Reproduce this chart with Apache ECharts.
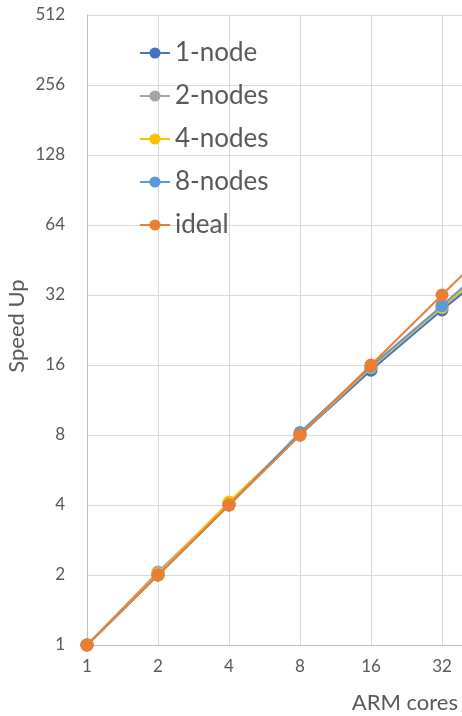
<!DOCTYPE html>
<html>
<head>
<meta charset="utf-8">
<script src="https://cdn.jsdelivr.net/npm/echarts@6/dist/echarts.min.js"></script>
<style>
  html, body { margin: 0; padding: 0; background: #fff; }
  #chart { width: 462px; height: 716px; }
</style>
</head>
<body>
<div id="chart"></div>
<script>
// Core counts (x) and measured speed-ups per node configuration
const cores = [1, 2, 4, 8, 16, 32, 64];
const oneNode    = [1, 2.0, 4.0, 8.0, 15.2, 27.6, 49];
const twoNodes   = [1, 2.06, 4.05, 8.0, 15.6, 28.2, 51];
const fourNodes  = [1, 2.02, 4.12, 8.05, 15.7, 28.4, 52];
const eightNodes = [1, 2.0, 4.0, 8.2, 15.8, 28.8, 54];
const ideal      = [1, 2, 4, 8, 16, 32, 64];

const seriesNames = ['1-node', '2-nodes', '4-nodes', '8-nodes', 'ideal'];
const seriesData = [oneNode, twoNodes, fourNodes, eightNodes, ideal];
const colors = ['#4472C4', '#A5A5A5', '#FFC000', '#5B9BD5', '#ED7D31'];

const FONT = 'Lato';
const TEXT = '#595959';

const chart = echarts.init(document.getElementById('chart'), null, { renderer: 'canvas' });

chart.setOption({
  animation: false,
  color: colors,
  textStyle: { fontFamily: FONT },
  // the plot runs on past the right edge, up to 64 cores
  grid: { left: 87, top: 15, bottom: 71, width: 426, containLabel: false, outerBoundsMode: 'none' },
  legend: {
    orient: 'vertical',
    left: 134,
    top: 35,
    itemWidth: 30,
    itemHeight: 14,
    itemGap: 17,
    data: seriesNames,
    textStyle: { fontSize: 26, color: TEXT, fontFamily: FONT }
  },
  xAxis: {
    type: 'log',
    logBase: 2,
    min: 1,
    max: 64,
    interval: 1,
    axisLine: { lineStyle: { color: '#BFBFBF', width: 1 } },
    axisTick: { show: false },
    axisLabel: { color: TEXT, fontSize: 17, margin: 13, fontFamily: FONT },
    splitLine: { show: true, lineStyle: { color: '#D9D9D9', width: 1 } }
  },
  yAxis: {
    type: 'log',
    logBase: 2,
    min: 1,
    max: 512,
    interval: 1,
    axisLine: { show: true, lineStyle: { color: '#BFBFBF', width: 1 } },
    axisTick: { show: false },
    axisLabel: { color: TEXT, fontSize: 17, margin: 22, fontFamily: FONT },
    splitLine: { show: true, lineStyle: { color: '#D9D9D9', width: 1 } }
  },
  graphic: [
    {
      type: 'text',
      x: 17,
      y: 326,
      rotation: Math.PI / 2,
      style: { text: 'Speed Up', fill: TEXT, font: '22px ' + FONT, align: 'center', verticalAlign: 'middle' }
    },
    {
      type: 'text',
      right: 4,
      top: 692,
      style: { text: 'ARM cores', fill: TEXT, font: '22px ' + FONT }
    }
  ],
  series: seriesNames.map((name, i) => ({
    name: name,
    type: 'line',
    data: cores.map((c, j) => [c, seriesData[i][j]]),
    symbol: 'circle',
    symbolSize: 13,
    showSymbol: true,
    clip: false,
    lineStyle: { width: 2, color: colors[i] },
    itemStyle: { color: colors[i] },
    z: 2 + i
  }))
});
</script>
</body>
</html>
